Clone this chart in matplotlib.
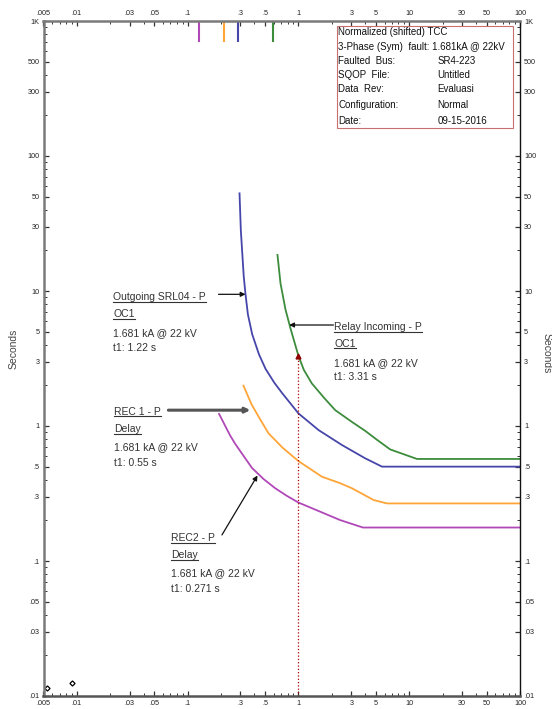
import numpy as np
import matplotlib
matplotlib.use('Agg')
import matplotlib.pyplot as plt
from matplotlib.ticker import LogLocator, NullFormatter
from matplotlib.lines import Line2D
from matplotlib.patches import Rectangle

plt.rcParams['font.family'] = ['Liberation Sans', 'DejaVu Sans']

# TCC curves (normalized current, seconds)
outgoing_x = [0.294, 0.302, 0.310, 0.321, 0.333, 0.350, 0.382, 0.440, 0.505, 0.604, 0.710, 1.0,
              1.52, 2.47, 4.01, 5.68, 100]
outgoing_y = [52.9, 28.3, 20.1, 12.8, 9.45, 6.7, 4.8, 3.4, 2.65, 2.1, 1.76, 1.24,
              0.933, 0.723, 0.576, 0.5, 0.5]

incoming_x = [0.647, 0.689, 0.764, 0.847, 1.0, 1.12, 1.32, 1.7, 2.15, 3.0, 4.01, 5.12, 6.75, 11.75, 100]
incoming_y = [18.5, 11.4, 7.3, 5.3, 3.31, 2.6, 2.07, 1.62, 1.31, 1.08, 0.92, 0.79, 0.67, 0.57, 0.57]

rec1_x = [0.319, 0.377, 0.443, 0.537, 0.72, 1.0, 1.63, 2.38, 3.04, 4.77, 6.3, 100]
rec1_y = [1.99, 1.45, 1.15, 0.883, 0.69, 0.55, 0.421, 0.377, 0.346, 0.283, 0.267, 0.267]

rec2_x = [0.192, 0.242, 0.268, 0.380, 0.484, 0.617, 0.78, 1.0, 1.57, 2.38, 3.82, 100]
rec2_y = [1.23, 0.85, 0.74, 0.49, 0.405, 0.346, 0.305, 0.271, 0.232, 0.201, 0.177, 0.177]

# small coloured marks hanging from the top axis
top_mark_x = [0.127, 0.212, 0.284, 0.587]

fault_x = 1.0
fault_t = 3.31

diamond_x = [0.00543, 0.009]
diamond_y = [0.01146, 0.01248]

x_ticks = [0.005, 0.01, 0.03, 0.05, 0.1, 0.3, 0.5, 1, 3, 5, 10, 30, 50, 100]
x_labels = ['.005', '.01', '.03', '.05', '.1', '.3', '.5', '1', '3', '5', '10', '30', '50', '100']
y_ticks = [0.01, 0.03, 0.05, 0.1, 0.3, 0.5, 1, 3, 5, 10, 30, 50, 100, 300, 500, 1000]
y_labels = ['.01', '.03', '.05', '.1', '.3', '.5', '1', '3', '5', '10', '30', '50', '100', '300', '500', '1K']

info_keys = ['Faulted  Bus:', 'SQOP  File:', 'Data  Rev:', 'Configuration:', 'Date:']
info_vals = ['SR4-223', 'Untitled', 'Evaluasi', 'Normal', '09-15-2016']

c_blue = '#4646aa'
c_green = '#3c8c3c'
c_orange = '#ffa538'
c_purple = '#b048b8'

W, H = 552, 709
fig = plt.figure(figsize=(W / 100, H / 100), dpi=100)
ax = fig.add_axes([43.5 / W, 13 / H, 476.5 / W, 675 / H])
ax.set_xscale('log')
ax.set_yscale('log')
ax.set_xlim(0.005, 100)
ax.set_ylim(0.01, 1000)

ax.plot(outgoing_x, outgoing_y, color=c_blue, lw=1.3)
ax.plot(incoming_x, incoming_y, color=c_green, lw=1.3)
ax.plot(rec1_x, rec1_y, color=c_orange, lw=1.3)
ax.plot(rec2_x, rec2_y, color=c_purple, lw=1.3)

ax.vlines(top_mark_x, 698, 1000, colors=[c_purple, c_orange, c_blue, c_green], lw=1.5)

ax.plot([fault_x, fault_x], [0.01, fault_t], color='#b00000', ls=':', lw=0.9)
ax.plot([fault_x], [fault_t], marker='^', ms=3.5, color='#900000')

ax.plot(diamond_x, diamond_y, 'D', ms=2.6, mfc='white', mec='k', mew=0.9, ls='none', clip_on=False)

# ticks
ax.set_xticks(x_ticks, x_labels)
ax.set_yticks(y_ticks, y_labels)
ax.xaxis.set_minor_locator(LogLocator(base=10, subs=np.arange(2, 10)))
ax.yaxis.set_minor_locator(LogLocator(base=10, subs=np.arange(2, 10)))
ax.xaxis.set_minor_formatter(NullFormatter())
ax.yaxis.set_minor_formatter(NullFormatter())
ax.tick_params(which='both', direction='in', top=True, right=True,
               labeltop=True, labelright=True, labelsize=5.2, labelcolor='#222', color='#333')
ax.tick_params(which='major', length=3.5, width=0.9, pad=3)
ax.tick_params(which='minor', length=2.5, width=0.7)

for side in ['left', 'top', 'bottom']:
    ax.spines[side].set_color('#7a7a7a')
    ax.spines[side].set_linewidth(1.8)
ax.spines['bottom'].set_color('#555555')
ax.spines['right'].set_color('#111111')
ax.spines['right'].set_linewidth(1.0)

fig.text(14 / W, 1 - 349 / H, 'Seconds', rotation=90, va='center', ha='center', fontsize=7.5, color='#444')
fig.text(546.5 / W, 1 - 353 / H, 'Seconds', rotation=270, va='center', ha='center', fontsize=7.5, color='#444')

# info box top right
def ax_frac(px, py):
    return (px - 43.5) / 476.5, 1 - (py - 21) / 675

bx0, by0 = ax_frac(336.7, 127.7)
bx1, by1 = ax_frac(512.7, 26)
ax.add_patch(Rectangle((bx0, by0), bx1 - bx0, by1 - by0, transform=ax.transAxes,
                       facecolor='white', edgecolor='#c87070', lw=0.8, zorder=5))
row_y = [32, 46.7, 61.3, 75.5, 89.5, 105, 120.5]
col1 = ax_frac(338.5, 0)[0]
col2 = ax_frac(437.3, 0)[0]
ax.text(col1, ax_frac(0, row_y[0])[1], 'Normalized (shifted) TCC', transform=ax.transAxes,
        fontsize=7, va='center', ha='left', color='#111', zorder=6)
ax.text(col1, ax_frac(0, row_y[1])[1], '3-Phase (Sym)  fault: 1.681kA @ 22kV', transform=ax.transAxes,
        fontsize=7, va='center', ha='left', color='#111', zorder=6)
for k, v, ry in zip(info_keys, info_vals, row_y[2:]):
    yy = ax_frac(0, ry)[1]
    ax.text(col1, yy, k, transform=ax.transAxes, fontsize=7, va='center', ha='left', color='#111', zorder=6)
    ax.text(col2, yy, v, transform=ax.transAxes, fontsize=7, va='center', ha='left', color='#111', zorder=6)

# curve labels: (x, y of first line, lines, pixel offsets of each line)
to_underline = []

def label_block(x, y, lines, offsets, n_under=2):
    for i, (s, off) in enumerate(zip(lines, offsets)):
        t = ax.annotate(s, xy=(x, y), xycoords='data', xytext=(0, -off * 0.72),
                        textcoords='offset points', fontsize=7.5, va='center', ha='left', color='#333')
        if i < n_under:
            to_underline.append(t)

label_block(0.0214, 8.98, ['Outgoing SRL04 - P', 'OC1', '1.681 kA @ 22 kV', 't1: 1.22 s'], [0, 17, 35.4, 50.4])
label_block(2.10, 5.39, ['Relay Incoming - P', 'OC1', '1.681 kA @ 22 kV', 't1: 3.31 s'], [0, 16.7, 36, 49.4])
label_block(0.0218, 1.276, ['REC 1 - P', 'Delay', '1.681 kA @ 22 kV', 't1: 0.55 s'], [0, 17.6, 35, 51])
label_block(0.0710, 0.147, ['REC2 - P', 'Delay', '1.681 kA @ 22 kV', 't1: 0.271 s'], [0, 16.7, 35, 50.7])

arrow = dict(arrowstyle='-|>', color='#111', lw=0.9, mutation_scale=7, shrinkA=0, shrinkB=0)
ax.annotate('', xy=(0.333, 9.45), xytext=(0.19, 9.45), arrowprops=arrow)
ax.annotate('', xy=(0.825, 5.6), xytext=(2.07, 5.6), arrowprops=arrow)
ax.annotate('', xy=(0.368, 1.31), xytext=(0.067, 1.31),
            arrowprops=dict(arrowstyle='-|>', color='#555', lw=2.2, mutation_scale=7, shrinkA=0, shrinkB=0))
ax.annotate('', xy=(0.427, 0.43), xytext=(0.204, 0.156), arrowprops=arrow)

fig.canvas.draw()
inv = fig.transFigure.inverted()
for t in to_underline:
    bb = t.get_window_extent()
    (x0, y0), (x1, _) = inv.transform([(bb.x0, bb.y0 + 0.5), (bb.x1, bb.y0 + 0.5)])
    fig.add_artist(Line2D([x0, x1], [y0, y0], transform=fig.transFigure, color='#333', lw=0.8))

fig.savefig('out.png', dpi=100)
